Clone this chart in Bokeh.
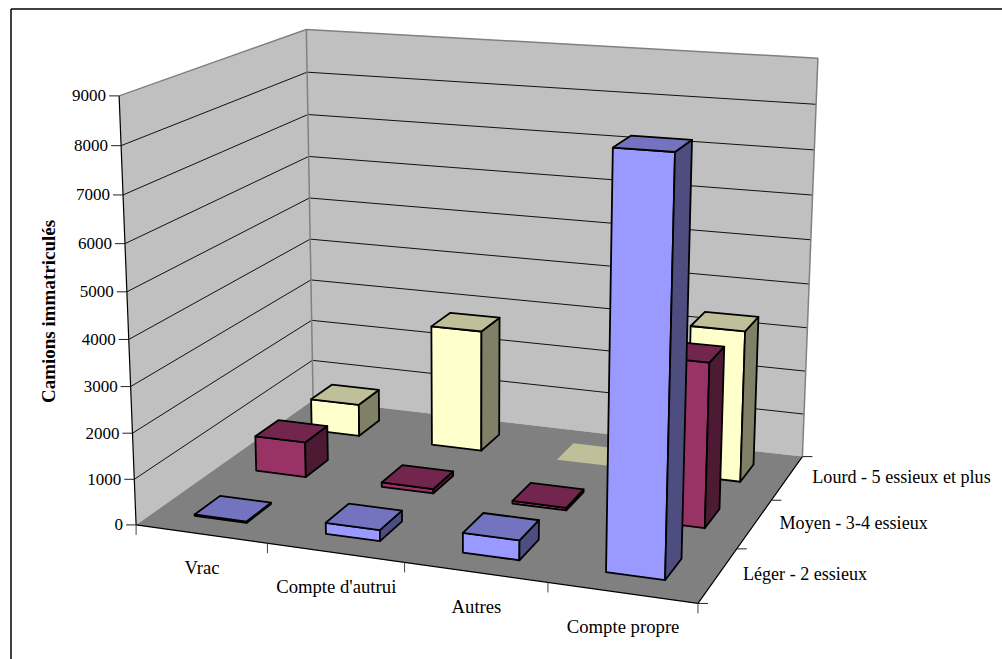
import numpy as np
from bokeh.plotting import figure
from bokeh.models import Range1d
from bokeh.core.properties import value
from bokeh.embed import file_html
from bokeh.resources import INLINE

# ---- data ----
categories = ["Vrac", "Compte d'autrui", "Autres", "Compte propre"]
series_names = ["Léger - 2 essieux", "Moyen - 3-4 essieux", "Lourd - 5 essieux et plus"]
leger = [30, 240, 420, 8480]
moyen = [800, 100, 60, 3560]
lourd = [750, 2800, 0, 3400]
value_ticks = [0, 1000, 2000, 3000, 4000, 5000, 6000, 7000, 8000, 9000]
axis_title = "Camions immatriculés"

# ---- style ----
FRONT = ["#9999FF", "#993366", "#FFFFCC"]
TOP = ["#7373BF", "#73264D", "#BFBF99"]
SIDE = ["#4D4D80", "#4D1A33", "#808066"]
FONT = "Liberation Serif"
BAR_W, BAR_D = 0.40, 0.40

# ---- 3D camera, calibrated on the box corners ----
VMAX = value_ticks[-1]
NC, NS = len(categories), len(series_names)
calib = [
    ((0, 0, 0), (136, 525)), ((NC, 0, 0), (697, 603)), ((NC, NS, 0), (802, 456)), ((0, NS, 0), (312, 399)),
    ((0, 0, 9000), (118, 95)), ((0, NS, 9000), (306, 29)), ((NC, NS, 9000), (817, 58)),
    ((0, 0, 5000), (127, 291)), ((0, NS, 5000), (309, 198)), ((NC, NS, 5000), (811, 239)),
]
rows = []
for (c, s, v), (x, y) in calib:
    X = [c / NC, s / NS, v / VMAX, 1]
    rows.append(X + [0, 0, 0, 0] + [-x / 1000 * k for k in X])
    rows.append([0, 0, 0, 0] + X + [-y / 1000 * k for k in X])
P = np.linalg.svd(np.array(rows))[2][-1].reshape(3, 4)


def proj(c, s, v):
    h = P @ np.array([c / NC, s / NS, v / VMAX, 1.0])
    return 1000 * h[0] / h[2], 1000 * h[1] / h[2]


def poly(pts):
    q = [proj(*t) for t in pts]
    return [a[0] for a in q], [a[1] for a in q]


p = figure(width=1002, height=659, output_backend="svg", toolbar_location=None,
           x_range=Range1d(0, 1002), y_range=Range1d(659, 0), min_border=0)
p.axis.visible = False
p.grid.visible = False
p.outline_line_color = None
p.background_fill_color = "white"

# outer frame
p.line([10.5, 10.5], [659, 8.5], line_color="black", line_width=1.5)
p.line([10.5, 1002], [8.5, 8.5], line_color="black", line_width=1.5)

GRAY = "#808080"
# walls and floor
xs, ys = poly([(0, 0, 0), (0, NS, 0), (0, NS, VMAX), (0, 0, VMAX)])
p.patch(xs, ys, fill_color="#C0C0C0", line_color=None)
xs, ys = poly([(0, NS, 0), (NC, NS, 0), (NC, NS, VMAX), (0, NS, VMAX)])
p.patch(xs, ys, fill_color="#C0C0C0", line_color=None)
xs, ys = poly([(0, 0, 0), (NC, 0, 0), (NC, NS, 0), (0, NS, 0)])
p.patch(xs, ys, fill_color="#808080", line_color=None)

# gridlines
for v in value_ticks[1:-1]:
    xs, ys = poly([(0, 0, v), (0, NS, v), (NC, NS, v)])
    p.line(xs, ys, line_color="#111111", line_width=1)
# wall edges
for pts in ([(0, 0, VMAX), (0, NS, VMAX), (NC, NS, VMAX), (NC, NS, 0)], [(0, NS, VMAX), (0, NS, 0)]):
    xs, ys = poly(pts)
    p.line(xs, ys, line_color=GRAY, line_width=1.5)
# axes
for pts in ([(0, 0, 0), (0, 0, VMAX)], [(0, 0, 0), (NC, 0, 0), (NC, NS, 0)]):
    xs, ys = poly(pts)
    p.line(xs, ys, line_color="black", line_width=1.2)

# ticks
for v in value_ticks:
    x, y = proj(0, 0, v)
    p.line([x - 10, x], [y, y], line_color="#222222", line_width=1)
for c in range(NC + 1):
    x, y = proj(c, 0, 0)
    p.line([x, x], [y, y + 10], line_color="#444444", line_width=1)
for s in range(NS + 1):
    x, y = proj(NC, s, 0)
    p.line([x, x + 10], [y, y], line_color="#222222", line_width=1)

# bars, back to front
for j in range(NS - 1, -1, -1):
    vals = [leger, moyen, lourd][j]
    for i in range(NC):
        v = vals[i]
        c0, c1 = i + .5 - BAR_W / 2, i + .5 + BAR_W / 2
        s0, s1 = j + .5 - BAR_D / 2, j + .5 + BAR_D / 2
        lc = "black" if v > 0 else None
        for pts, col in (
            ([(c0, s0, 0), (c1, s0, 0), (c1, s0, v), (c0, s0, v)], FRONT[j]),
            ([(c1, s0, 0), (c1, s1, 0), (c1, s1, v), (c1, s0, v)], SIDE[j]),
            ([(c0, s0, v), (c1, s0, v), (c1, s1, v), (c0, s1, v)], TOP[j]),
        ):
            xs, ys = poly(pts)
            p.patch(xs, ys, fill_color=col, line_color=lc, line_width=1.8, line_join="round")

# labels
def label(x, y, t, align="left", size="18.1px", style="normal", angle=0.0):
    p.text([x], [y], text=[t], text_font=value(FONT), text_font_size=size, text_font_style=style,
           text_align=align, text_baseline="middle", text_color="black", angle=angle)


for v in value_ticks:
    x, y = proj(0, 0, v)
    label(x - 13, y, str(v), align="right", size="17px")
for i, t in enumerate(categories):
    x, y = proj(i + .5, 0, 0)
    label(x + 1, y + 34, t, align="center", size="18.7px")
for j, t in enumerate(series_names):
    x, y = proj(NC, j + .5, 0)
    label(x + 25, y - 1, t)
label(48, 311, axis_title, align="center", size="19px", style="bold", angle=np.pi / 2)

open("out.html", "w").write(file_html(p, INLINE))
